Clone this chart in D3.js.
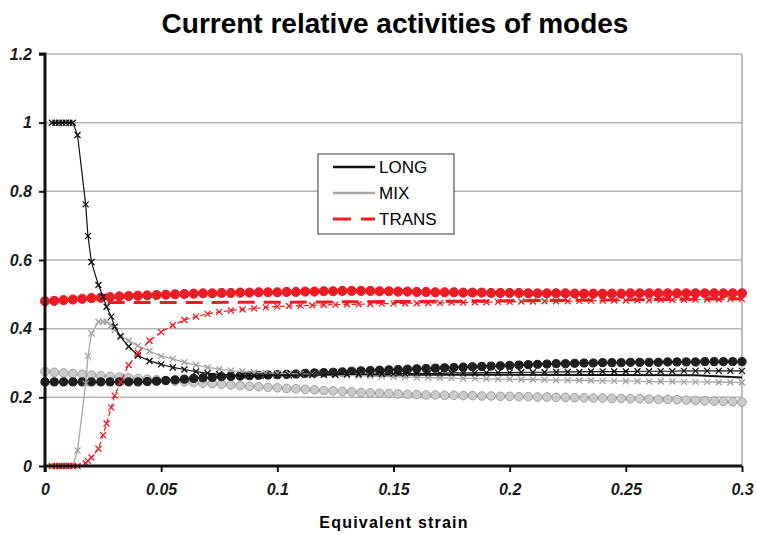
<!DOCTYPE html>
<html>
<head>
<meta charset="utf-8">
<script src="https://cdn.jsdelivr.net/npm/d3@7"></script>
<style>
  body { margin: 0; background: #fff; }
  text { font-family: "Liberation Sans", Arial, sans-serif; }
</style>
</head>
<body>
<div id="chart"></div>
<script>
// strain values where the markers sit
let circleStrain = [0,.004,.008,.012,.016,.02,.024,.028,.032,.036,.04,.044,.048,.052,.056,.06,.064,.068,.072,.076,
  .08,.084,.088,.092,.096,.1,.104,.108,.112,.116,.12,.124,.128,.132,.136,.14,.144,.148,.152,.156,
  .16,.164,.168,.172,.176,.18,.184,.188,.192,.196,.2,.204,.208,.212,.216,.22,.224,.228,.232,.236,
  .24,.244,.248,.252,.256,.26,.264,.268,.272,.276,.28,.284,.288,.292,.296,.3]

let longCircles = [.245,.245,.245,.245,.245,.245,.245,.245,.245,.245,
  .245,.246,.247,.249,.251,.253,.255,.257,.258,.26,
  .261,.262,.263,.264,.265,.266,.267,.268,.27,.271,
  .272,.273,.274,.276,.277,.278,.279,.28,.281,.282,
  .283,.284,.285,.286,.287,.288,.289,.29,.291,.292,
  .293,.294,.295,.296,.297,.298,.298,.299,.3,.3,
  .301,.301,.301,.302,.302,.302,.302,.303,.303,.303,
  .303,.304,.304,.304,.304,.304]

let mixCircles = [.275,.273,.271,.269,.267,.265,.263,.261,.259,.257,
  .255,.253,.251,.249,.247,.245,.243,.241,.24,.238,
  .236,.234,.232,.231,.229,.228,.226,.225,.223,.222,
  .22,.219,.217,.216,.214,.213,.212,.211,.21,.209,
  .208,.207,.207,.206,.206,.205,.205,.204,.204,.203,
  .203,.202,.202,.201,.201,.2,.2,.199,.199,.198,
  .198,.197,.197,.196,.196,.195,.194,.194,.193,.192,
  .191,.19,.189,.188,.187,.186]

let transCircles = [.48,.481,.483,.485,.487,.489,.49,.492,.494,.495,
  .496,.497,.498,.499,.5,.501,.502,.503,.503,.504,
  .504,.505,.505,.506,.506,.506,.507,.507,.508,.508,
  .509,.509,.51,.51,.51,.51,.509,.509,.508,.508,
  .507,.507,.506,.506,.506,.505,.505,.505,.504,.504,
  .504,.504,.503,.503,.503,.503,.503,.502,.502,.502,
  .502,.502,.502,.503,.503,.503,.503,.503,.503,.503,
  .503,.503,.503,.503,.503,.503]

let crossStrain = [.003,.0045,.006,.0075,.009,.0105,.012,.014,.0175,.0185,.02,.023,.025,.0265,.0285,.03,.0325,.036,
  .04,.045,.05,.055,.06,.065,.07,.075,.08,.085,.09,.095,.1,.105,.11,.115,.12,.125,.13,.135,.14,.145,
  .15,.155,.16,.165,.17,.175,.18,.185,.19,.195,.2,.205,.21,.215,.22,.225,.23,.235,.24,.245,
  .25,.255,.26,.265,.27,.275,.28,.285,.29,.295,.3]

let longCrosses = [1,1,1,1,1,1,1,.964,.762,.67,.594,.527,.493,.464,.435,.406,.377,.348,
  .322,.306,.296,.287,.281,.275,.27,.267,.265,.264,
  .263,.263,.264,.264,.265,.265,.266,.266,.267,.267,
  .268,.268,.269,.269,.27,.27,.27,.271,.271,.271,
  .272,.272,.272,.273,.273,.273,.274,.274,.274,.275,
  .275,.275,.275,.276,.276,.276,.276,.277,.277,.277,
  .277,.277,.277]

let mixCrosses = [0,0,0,0,0,0,0,.045,.24,.32,.386,.42,.42,.42,.41,.396,.38,.365,
  .35,.335,.32,.312,.302,.294,.287,.282,.278,.275,
  .273,.271,.27,.269,.268,.267,.266,.265,.264,.263,
  .262,.261,.26,.259,.258,.257,.257,.256,.255,.255,
  .254,.253,.253,.252,.252,.251,.25,.25,.249,.249,
  .248,.248,.247,.247,.246,.246,.246,.245,.245,.245,
  .244,.244,.243]

let transCrosses = [0,0,0,0,0,0,0,0,.008,.015,.025,.05,.09,.124,.17,.205,.245,.294,
  .33,.365,.39,.41,.425,.435,.443,.449,.453,.456,
  .459,.462,.465,.466,.467,.468,.469,.47,.471,.471,
  .472,.473,.473,.474,.474,.475,.475,.476,.476,.477,
  .477,.478,.478,.479,.479,.48,.48,.48,.481,.481,
  .482,.482,.482,.483,.483,.484,.484,.484,.485,.485,
  .485,.486,.486]

// plain lines (the ones named in the legend)
let transLineStrain = [.027,.05,.1,.15,.2,.25,.3]
let transLine = [.476,.476,.477,.479,.481,.484,.487]
let longLineStrain = [.1,.2,.28,.3]
let longLine = [.266,.266,.264,.258]

let xTicks = [0,.05,.1,.15,.2,.25,.3]
let xTickLabels = ["0","0.05","0.1","0.15","0.2","0.25","0.3"]
let yTicks = [0,.2,.4,.6,.8,1,1.2]
let yTickLabels = ["0","0.2","0.4","0.6","0.8","1","1.2"]
let legendNames = ["LONG","MIX","TRANS"]

let red = "#ed1c24"

let svg = d3.select("#chart").append("svg")
svg.attr("width", 757)
svg.attr("height", 535)

let x = d3.scaleLinear().domain([0,.3]).range([45,742])
let y = d3.scaleLinear().domain([0,1.2]).range([466,54])

// title
svg.append("text")
   .attr("x", 395).attr("y", 33)
   .attr("text-anchor", "middle")
   .style("font-size", "28px").style("font-weight", "bold")
   .text("Current relative activities of modes")

// gridlines
svg.append("g").selectAll("line")
   .data(yTicks.slice(1))
   .enter().append("line")
   .attr("x1", x(0)).attr("x2", x(.3))
   .attr("y1", d => y(d)).attr("y2", d => y(d))
   .style("stroke", "#b4b4b4").style("stroke-width", 1.5)

svg.append("line")
   .attr("x1", x(.3)).attr("x2", x(.3))
   .attr("y1", y(0)).attr("y2", y(1.2))
   .style("stroke", "#a8a8a8").style("stroke-width", 1.5)

function zip(xs, ys) {
  return xs.map((d,i) => [d, ys[i]])
}

let line = d3.line().x(d => x(d[0])).y(d => y(d[1]))

function drawLine(pts, color, width, dash) {
  svg.append("path")
     .datum(pts)
     .attr("d", line)
     .style("fill", "none")
     .style("stroke", color)
     .style("stroke-width", width)
     .style("stroke-dasharray", dash || null)
}

function drawCircles(pts, fill, stroke, r) {
  svg.append("g").selectAll("circle")
     .data(pts)
     .enter().append("circle")
     .attr("cx", d => x(d[0]))
     .attr("cy", d => y(d[1]))
     .attr("r", r)
     .style("fill", fill)
     .style("stroke", stroke)
     .style("stroke-width", 1)
}

function drawCrosses(pts, color, s) {
  svg.append("g").selectAll("path")
     .data(pts)
     .enter().append("path")
     .attr("transform", d => "translate(" + x(d[0]) + "," + y(d[1]) + ")")
     .attr("d", "M" + (-s) + "," + (-s) + "L" + s + "," + s + "M" + (-s) + "," + s + "L" + s + "," + (-s))
     .style("stroke", color)
     .style("stroke-width", 1.3)
}

// circle series
let mixC = zip(circleStrain, mixCircles)
let longC = zip(circleStrain, longCircles)
let transC = zip(circleStrain, transCircles)
drawLine(mixC, "#a8a8a8", 2)
drawCircles(mixC, "#cbcbcb", "#a0a0a0", 4.3)
drawLine(longC, "#1a1a1a", 2)
drawCircles(longC, "#1e1e1e", "#1e1e1e", 4.1)
drawLine(transC, red, 2)
drawCircles(transC, red, red, 4.6)

// plain lines
drawLine(zip(transLineStrain, transLine), red, 3, "17,9")
drawLine(zip(longLineStrain, longLine), "#111", 2)

// cross series
let mixX = zip(crossStrain, mixCrosses)
let longX = zip(crossStrain, longCrosses)
let transX = zip(crossStrain, transCrosses)
drawLine(mixX, "#a8a8a8", 1.3)
drawCrosses(mixX, "#a0a0a0", 3)
drawLine(longX, "#111", 1.2)
drawCrosses(longX, "#111", 3)
drawLine(transX, red, 1.2, "5,3")
drawCrosses(transX, red, 3)

// legend
let legend = svg.append("g").attr("transform", "translate(318,154)")
legend.append("rect")
      .attr("width", 136).attr("height", 80)
      .style("fill", "#fff").style("stroke", "#333").style("stroke-width", 1)
let legendColor = ["#111", "#a8a8a8", red]
let legendDash = [null, null, "18,10"]
let rows = legend.selectAll("g.item")
      .data(legendNames)
      .enter().append("g")
      .attr("transform", (d,i) => "translate(0," + (13 + i*26) + ")")
rows.append("line")
    .attr("x1", 15).attr("x2", 57)
    .style("stroke", (d,i) => legendColor[i])
    .style("stroke-width", (d,i) => i == 2 ? 3 : 2.5)
    .style("stroke-dasharray", (d,i) => legendDash[i])
rows.append("text")
    .attr("x", 61).attr("y", 6)
    .style("font-size", "17px")
    .text(d => d)

// axes
let yAxis = d3.axisLeft(y).tickValues(yTicks).tickFormat((d,i) => yTickLabels[i]).tickSize(6).tickPadding(7)
let xAxis = d3.axisBottom(x).tickValues(xTicks).tickFormat((d,i) => xTickLabels[i]).tickSize(6).tickPadding(12)

let gy = svg.append("g").attr("transform", "translate(45,0)").call(yAxis)
let gx = svg.append("g").attr("transform", "translate(0,466)").call(xAxis)

for (let g of [gx, gy]) {
  g.select(".domain").style("stroke", "#111").style("stroke-width", 3)
  g.selectAll(".tick line").style("stroke", "#111").style("stroke-width", 2)
  g.selectAll(".tick text")
   .style("font-size", "16px").style("font-weight", "bold").style("font-style", "italic")
   .style("fill", "#1a1a1a")
}
gy.select(".domain").attr("d", "M-6," + y(1.2) + "H0V" + y(0))
gx.select(".domain").attr("d", "M" + x(0) + ",6V0H" + x(.3))

svg.append("text")
   .attr("x", 394).attr("y", 528)
   .attr("text-anchor", "middle")
   .style("font-size", "16px").style("font-weight", "bold")
   .style("letter-spacing", "1.2px")
   .text("Equivalent strain")
</script>
</body>
</html>
